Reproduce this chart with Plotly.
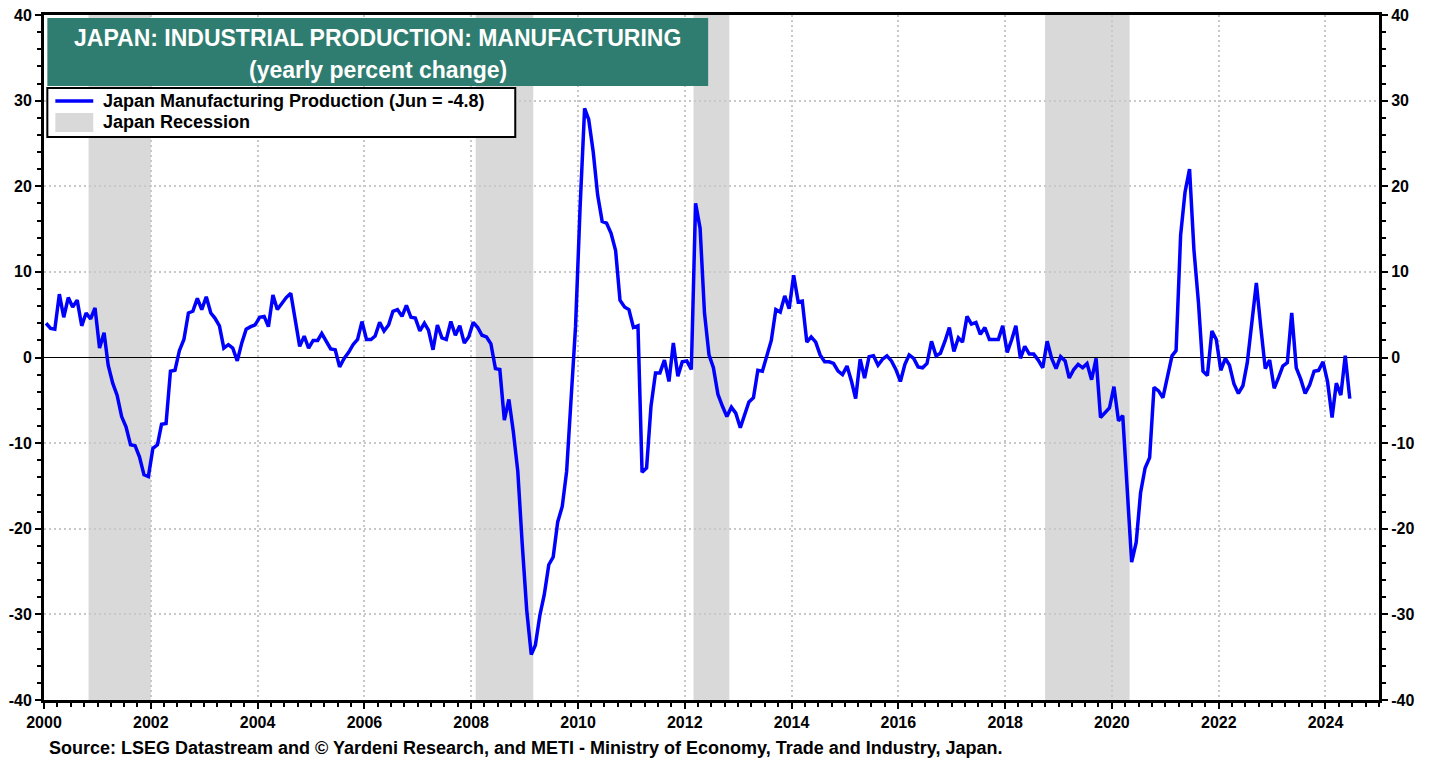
import plotly.graph_objects as go
import pandas as pd

# ---- data: Japan manufacturing production, yearly % change (monthly) ----
v2000 = [4.0, 3.4, 3.3, 7.4, 4.7, 7.0, 5.9, 6.7, 3.7, 5.2, 4.5, 5.8]
v2001 = [1.1, 2.9, -0.9, -3.0, -4.4, -6.9, -8.1, -10.2, -10.3, -11.6, -13.7, -13.9]
v2002 = [-10.6, -10.2, -7.8, -7.7, -1.6, -1.5, 0.8, 2.1, 5.2, 5.4, 6.9, 5.6]
v2003 = [7.1, 5.2, 4.6, 3.7, 1.1, 1.5, 1.1, -0.4, 1.7, 3.3, 3.6, 3.8]
v2004 = [4.7, 4.8, 3.6, 7.3, 5.6, 6.3, 7.0, 7.5, 4.4, 1.3, 2.5, 1.1]
v2005 = [2.0, 2.0, 2.8, 1.9, 1.0, 0.9, -1.1, -0.1, 0.6, 1.5, 2.1, 4.2]
v2006 = [2.1, 2.1, 2.5, 4.1, 3.1, 3.8, 5.4, 5.6, 4.8, 6.1, 4.7, 4.6]
v2007 = [3.1, 4.0, 3.2, 0.9, 3.8, 2.3, 2.1, 4.2, 2.6, 3.7, 1.7, 2.4]
v2008 = [4.1, 3.5, 2.6, 2.4, 1.6, -1.3, -1.4, -7.3, -4.9, -8.6, -13.3, -21.7]
v2009 = [-29.5, -34.7, -33.6, -30.1, -27.7, -24.2, -23.3, -19.2, -17.4, -13.3, -5.2, 3.6]
v2010 = [17.5, 29.1, 27.8, 24.0, 19.0, 15.9, 15.7, 14.5, 12.5, 6.7, 5.9, 5.6]
v2011 = [3.5, 3.7, -13.4, -12.9, -5.7, -1.8, -1.8, -0.3, -2.8, 1.7, -2.2, -0.5]
v2012 = [-0.4, -1.4, 18.0, 15.1, 5.2, 0.3, -1.2, -4.3, -5.7, -6.9, -5.8, -6.5]
v2013 = [-8.2, -6.7, -5.2, -4.7, -1.5, -1.6, 0.3, 2.0, 5.6, 5.3, 7.2, 5.7]
v2014 = [9.6, 6.5, 6.6, 1.8, 2.4, 1.8, 0.3, -0.5, -0.5, -0.7, -1.6, -2.0]
v2015 = [-1.0, -2.8, -4.8, -0.2, -2.4, 0.1, 0.2, -0.9, -0.2, 0.2, -0.4, -1.4]
v2016 = [-2.8, -0.8, 0.3, -0.1, -1.1, -1.2, -0.7, 1.9, 0.2, 0.5, 1.9, 3.5]
v2017 = [0.7, 2.3, 1.8, 4.8, 3.9, 4.1, 2.7, 3.5, 2.1, 2.1, 2.1, 3.7]
v2018 = [0.6, 2.1, 3.7, -0.1, 1.3, 0.4, 0.4, -0.3, -1.2, 1.9, -0.1, -1.3]
v2019 = [0.1, -0.4, -2.4, -1.4, -0.8, -1.2, -0.7, -2.6, -0.1, -7.0, -6.5, -5.9]
v2020 = [-3.4, -7.4, -6.8, -15.0, -23.9, -21.6, -15.8, -12.9, -11.7, -3.5, -3.9, -4.7]
v2021 = [-2.0, 0.2, 0.8, 14.3, 19.3, 22.0, 12.6, 6.4, -1.6, -2.1, 3.1, 2.1]
v2022 = [-1.5, -0.1, -0.9, -3.1, -4.2, -3.3, -0.6, 3.7, 8.7, 3.6, -1.3, -0.3]
v2023 = [-3.6, -2.3, -1.0, -0.6, 5.2, -1.2, -2.5, -4.2, -3.2, -1.6, -1.5, -0.5]
v2024 = [-2.8, -7.0, -3.0, -4.4, 0.2, -4.8]

yearly = [v2000, v2001, v2002, v2003, v2004, v2005, v2006, v2007, v2008, v2009,
          v2010, v2011, v2012, v2013, v2014, v2015, v2016, v2017, v2018, v2019,
          v2020, v2021, v2022, v2023, v2024]
values = [v for yr in yearly for v in yr]
dates = pd.date_range("2000-01-01", periods=len(values), freq="MS") + pd.Timedelta(days=14)

rec_start = ["2000-11-01", "2008-02-01", "2012-03-01", "2018-10-01"]
rec_end = ["2002-01-01", "2009-03-01", "2012-11-01", "2020-05-01"]

x_ticks = [str(y) for y in range(2000, 2025, 2)]
y_ticks = [-40, -30, -20, -10, 0, 10, 20, 30, 40]
y_ticktext = [str(v) for v in y_ticks]

TITLE1 = "JAPAN: INDUSTRIAL PRODUCTION: MANUFACTURING"
TITLE2 = "(yearly percent change)"
LEG1 = "Japan Manufacturing Production (Jun = -4.8)"
LEG2 = "Japan Recession"
SOURCE = "Source: LSEG Datastream and \u00a9 Yardeni Research, and METI - Ministry of Economy, Trade and Industry, Japan."

FONT = "Liberation Sans, Arial, sans-serif"
BLUE = "#0000ff"
TEAL = "#2f7d70"
GRAY = "#d9d9d9"
GRID = "#c8c8c8"

fig = go.Figure()
fig.add_trace(go.Scatter(x=dates, y=values, mode="lines",
                         line=dict(color=BLUE, width=3.5), hoverinfo="skip"))
# invisible trace to carry the right axis
fig.add_trace(go.Scatter(x=[dates[0]], y=[0], yaxis="y2", mode="markers",
                         marker=dict(opacity=0), hoverinfo="skip"))

for s, e in zip(rec_start, rec_end):
    fig.add_shape(type="rect", xref="x", yref="paper", x0=s, x1=e, y0=0, y1=1,
                  fillcolor=GRAY, line=dict(width=0), layer="below")

tickfont = dict(family=FONT, size=16, color="black", weight="bold")
yax_common = dict(range=[-40, 40], tickvals=y_ticks, ticktext=y_ticktext,
                  ticks="outside", ticklen=6,
                  tickwidth=1.5, tickcolor="black", tickfont=tickfont, automargin=False,
                  minor=dict(dtick=2, ticks="outside", ticklen=4, tickcolor="black", showgrid=False),
                  showline=True, linecolor="black", linewidth=3)

fig.update_layout(
    width=1438, height=763,
    margin=dict(l=44, r=59, t=15, b=63),
    plot_bgcolor="white", paper_bgcolor="white",
    showlegend=False,
    xaxis=dict(type="date", range=["2000-01-01", "2025-01-01"], automargin=False,
               tickvals=[f"{y}-01-01" for y in x_ticks], ticktext=x_ticks,
               ticks="outside", ticklen=6, tickwidth=1.5, tickcolor="black",
               tickfont=tickfont,
               minor=dict(dtick="M3", tick0="2000-01-01", ticks="outside", ticklen=4,
                          tickcolor="black", showgrid=False),
               showgrid=True, gridcolor=GRID, griddash="2px,3px", gridwidth=1.5,
               showline=True, linecolor="black", linewidth=3, mirror=True),
    yaxis=dict(**yax_common, side="left", mirror=True,
               showgrid=True, gridcolor=GRID, griddash="2px,3px", gridwidth=1.5,
               zeroline=True, zerolinecolor="black", zerolinewidth=1),
    yaxis2=dict(**yax_common, side="right", overlaying="y", showgrid=False, zeroline=False),
)

# title box
fig.add_shape(type="rect", xref="paper", yref="paper", x0=0.0025, x1=0.4975,
              y0=0.8964, y1=0.9956, fillcolor=TEAL, line=dict(width=0))
fig.add_annotation(xref="paper", yref="paper", x=0.25, y=0.9664, text=TITLE1,
                   showarrow=False, xanchor="center", yanchor="middle",
                   font=dict(family=FONT, size=23, color="white", weight="bold"))
fig.add_annotation(xref="paper", yref="paper", x=0.25, y=0.9197, text=TITLE2,
                   showarrow=False, xanchor="center", yanchor="middle",
                   font=dict(family=FONT, size=23, color="white", weight="bold"))

# legend box
fig.add_shape(type="rect", xref="paper", yref="paper", x0=0.0025, x1=0.353,
              y0=0.8219, y1=0.8934, fillcolor="white", line=dict(color="black", width=2))
fig.add_shape(type="line", xref="paper", yref="paper", x0=0.0085, x1=0.0369,
              y0=0.8745, y1=0.8745, line=dict(color=BLUE, width=3.5))
fig.add_shape(type="rect", xref="paper", yref="paper", x0=0.0085, x1=0.0369,
              y0=0.8292, y1=0.8569, fillcolor=GRAY, line=dict(width=0))
fig.add_annotation(xref="paper", yref="paper", x=0.0429, y=0.8745, text=LEG1,
                   showarrow=False, xanchor="left", yanchor="middle",
                   font=dict(family=FONT, size=18, color="black", weight="bold"))
fig.add_annotation(xref="paper", yref="paper", x=0.0429, y=0.8438, text=LEG2,
                   showarrow=False, xanchor="left", yanchor="middle",
                   font=dict(family=FONT, size=18, color="black", weight="bold"))

# source
fig.add_annotation(xref="paper", yref="paper", x=0.0025, y=-0.07, text=SOURCE,
                   showarrow=False, xanchor="left", yanchor="middle",
                   font=dict(family=FONT, size=18, color="black", weight="bold"))

fig.write_html("out.html", config={"displayModeBar": False},
               post_script="document.body.style.margin='0px';")
